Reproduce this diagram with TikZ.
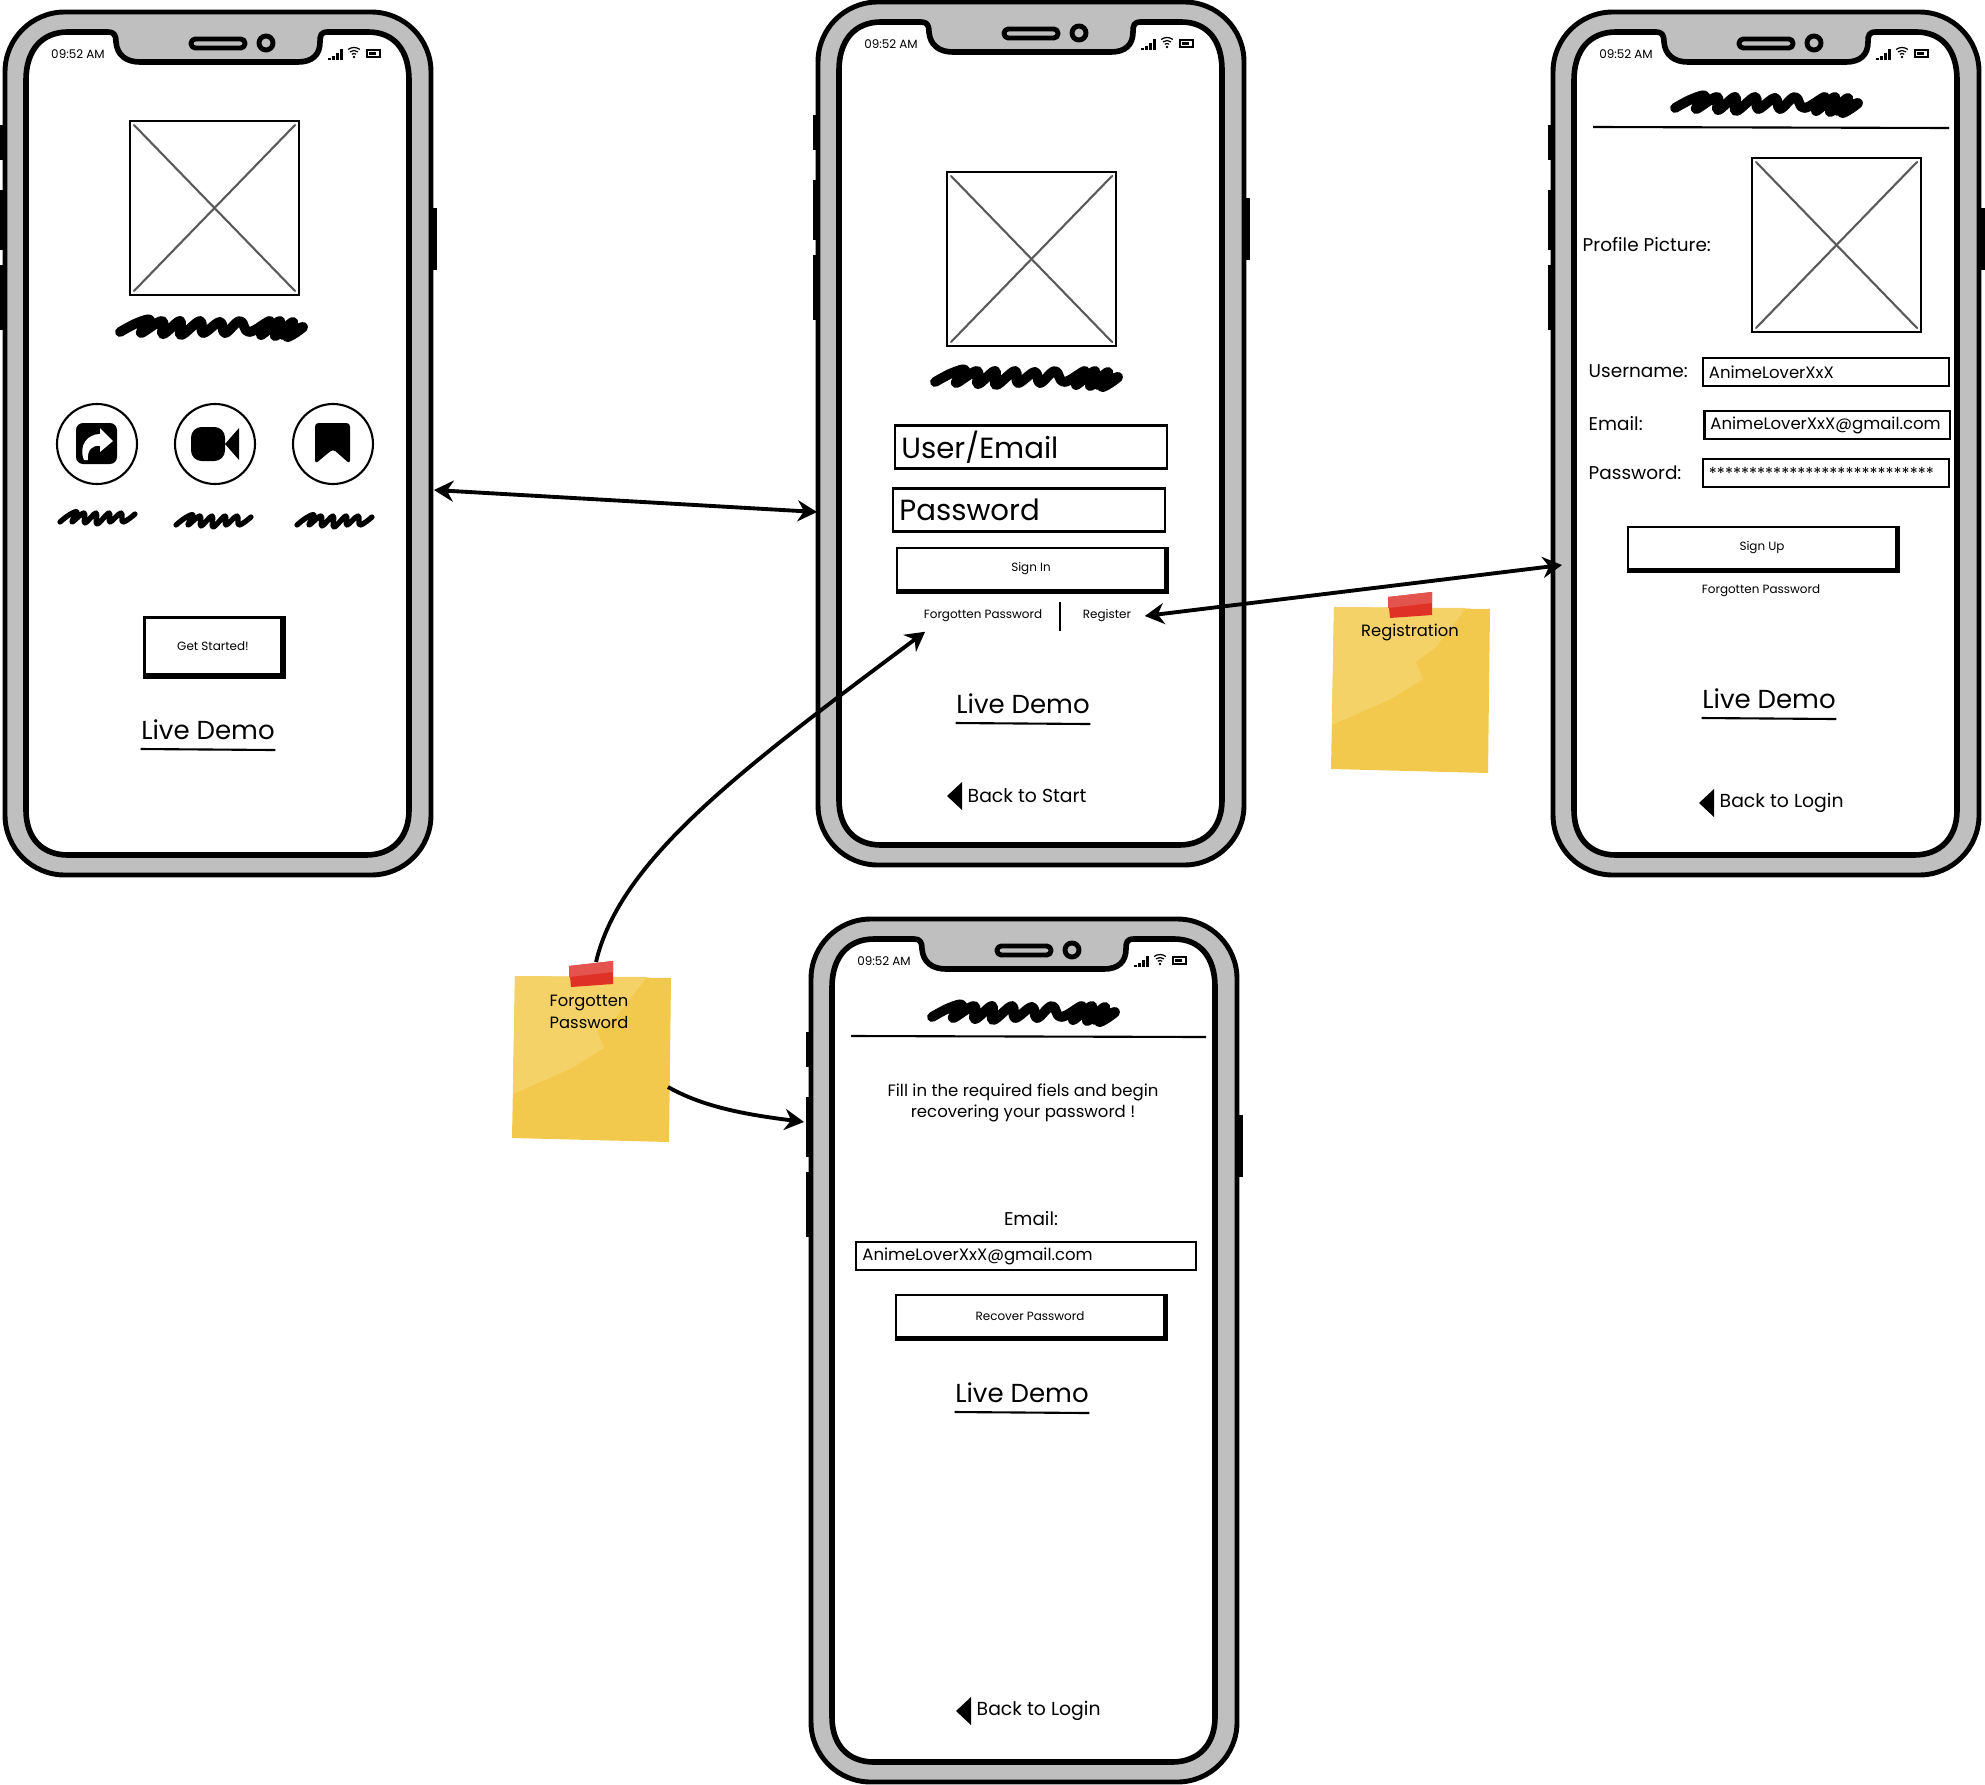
\documentclass[tikz,border=0pt]{standalone}
\usepackage{fontspec}
\setmainfont{Poppins}
\usetikzlibrary{decorations.pathmorphing, arrows.meta, calc}
\definecolor{framecol}{RGB}{191,191,191}
\definecolor{notecol}{RGB}{242,201,76}
\definecolor{noteglow}{RGB}{244,210,104}
\definecolor{tapecol}{RGB}{224,49,39}
\definecolor{tapeglow}{RGB}{228,84,78}
\definecolor{crosscol}{RGB}{90,90,90}

\begin{document}
\begin{tikzpicture}[
    x=0.01cm, y=-0.01cm,
    shellline/.style={line width=1.4pt, line join=round},
    thinline/.style={line width=0.6pt},
    arr/.style={{Stealth[length=5.5pt,width=6pt]}-{Stealth[length=5.5pt,width=6pt]}, line width=1.1pt},
    arrone/.style={-{Stealth[length=5.5pt,width=6pt]}, line width=1.1pt},
    tinytext/.style={font=\fontsize{3.4}{4.5}\selectfont, inner sep=0pt},
    labeltext/.style={font=\fontsize{5.25}{6}\selectfont, inner sep=0pt},
    backtext/.style={font=\fontsize{5.35}{6}\selectfont, inner sep=0pt, anchor=west},
    notetext/.style={font=\fontsize{4.65}{6.1}\selectfont, inner sep=0pt, align=center},
    demotext/.style={font=\fontsize{7.4}{8}\selectfont, inner sep=0pt},
    bigfield/.style={draw, thinline, font=\fontsize{8.3}{9}\selectfont, inner xsep=0.06cm,
                     inner ysep=0pt, minimum height=0.43cm, text width=2.59cm, align=left},
    field/.style={draw, thinline, font=\fontsize{4.7}{5}\selectfont, inner xsep=0.06cm,
                  inner ysep=0pt, minimum height=0.28cm, align=left},
    btn/.style={draw, thinline, tinytext, minimum width=2.68cm, minimum height=0.42cm},
    scribbleline/.style={line width=2.8pt, line cap=round, line join=round},
    phone/.pic={
        % side buttons
        \foreach \ya/\yb in {125/160, 190/250, 265/330}{
            \fill (0,\ya) rectangle (4,\yb);
        }
        \fill (432,208) rectangle (437,270);
        % case and screen
        \draw[shellline, fill=framecol, rounded corners=17pt] (5,12) rectangle (431,875);
        \draw[shellline, line width=1.6pt, fill=white]
            (26,80) .. controls (26,50) and (42,32) .. (68,32) -- (108,32)
            .. controls (114,32) and (116,35) .. (116,42)
            .. controls (117,55) and (126,62) .. (140,62) -- (298,62)
            .. controls (312,62) and (320,55) .. (320,42)
            .. controls (320,35) and (321,32) .. (328,32) -- (368,32)
            .. controls (394,32) and (409,50) .. (409,80) -- (409,810)
            .. controls (409,838) and (392,855) .. (366,855) -- (68,855)
            .. controls (42,855) and (26,838) .. (26,810) -- cycle;
        % speaker and camera
        \draw[shellline, fill=framecol, rounded corners=1.2pt] (191,39) rectangle (245,48);
        \draw[shellline, fill=framecol] (266,43) circle (7);
        % status bar
        \node[tinytext] at (78,54) {09:52 AM};
        \foreach \xx/\yy in {328/58, 332/56, 336/53, 340/49}{
            \fill (\xx,\yy) rectangle ++(2.5,-\yy+60);
        }
        \foreach \rr in {0.035,0.065,0.095}{
            \draw[line width=0.35pt] (354,57) ++(52:\rr cm) arc[start angle=52, end angle=128, radius=\rr cm];
        }
        \fill (354,57) circle (1.3);
        \draw[line width=0.4pt] (367,50) rectangle (380,57);
        \fill (369,52) rectangle (376,55);
    },
    imagebox/.pic={
        \draw[line width=0.7pt] (0,0) rectangle (169,174);
        \draw[crosscol, line width=0.6pt, line cap=round] (4,4) -- (165,170);
        \draw[crosscol, line width=0.6pt, line cap=round] (165,4) -- (4,170);
    },
    scribble/.pic={
        \draw[scribbleline, pic actions] plot[smooth, tension=0.7] coordinates {
            (5,19) (22,10) (35,7) (26,20) (47,8) (48,21) (65,8) (66,22) (85,8)
            (88,20) (105,9) (110,20) (125,8) (134,19) (155,8) (146,22) (165,8)
            (160,23) (178,9) (172,24) (188,14) (168,22)};
    },
    shortscribble/.pic={
        \draw[scribbleline, line width=1.5pt] plot[smooth, tension=0.7] coordinates {
            (3,16) (12,9) (20,6) (15,16) (27,7) (28,17) (39,7) (40,18) (52,7)
            (53,16) (64,7) (66,16) (78,8)};
    },
    sticky/.pic={
        \fill[notecol] (3,0) -- (159,2) -- (157,166) -- (0,162) -- cycle;
        \fill[noteglow] (3,0) -- (135,1) -- (105,40) -- (85,55) -- (92,72) -- (60,92) -- (1,118) -- cycle;
        \fill[tapecol] (57,-10) -- (101,-15) -- (101,8) -- (59,11) -- cycle;
        \fill[tapeglow] (57,-10) -- (101,-15) -- (101,-4) -- (57,1) -- cycle;
    },
]

\path[use as bounding box] (0,0) rectangle (1985,1785);

% ════════════════════════════════════════════════════════
% 0. PHONES
% ════════════════════════════════════════════════════════
\pic at (0,0) {phone};
\pic at (813,-10) {phone};
\pic at (1548,0) {phone};
\pic at (806,907) {phone};

% ════════════════════════════════════════════════════════
% 1. START SCREEN
% ════════════════════════════════════════════════════════
\pic at (130,121) {imagebox};
\pic at (115,313) {scribble};

\foreach \xc in {97,215,333}{
    \draw[line width=0.6pt] (\xc,444) circle (40);
}
% share icon
\fill[rounded corners=2pt] (76,423) rectangle (117,464);
\fill[white] (100,428) -- (113,441) -- (100,452) -- (100,446)
    .. controls (92,445) and (87,450) .. (88,460) -- (84,460)
    .. controls (78,445) and (88,434) .. (100,434) -- cycle;
% video icon
\fill[rounded corners=3pt] (191,427) rectangle (225,461);
\fill (225,444) -- (239,428) -- (239,460) -- cycle;
% bookmark icon
\fill[rounded corners=1pt] (315,423) -- (350,423) -- (350,464) -- (333,449) -- (315,464) -- cycle;

\pic at (57,506) {shortscribble};
\pic at (173,509) {shortscribble};
\pic at (294,509) {shortscribble};

\node[btn, minimum width=1.37cm, minimum height=0.57cm] (started) at (213,646) {Get Started!};
\node[demotext] (demostart) at (208,730) {Live Demo};

% ════════════════════════════════════════════════════════
% 2. LOGIN SCREEN
% ════════════════════════════════════════════════════════
\pic at (947,172) {imagebox};
\pic at (930,363) {scribble};

\node[bigfield] (userfield) at (1031,447) {User/Email};
\node[bigfield] (passfield) at (1029,510) {Password};
\node[btn] (signin) at (1031,569) {Sign In};

\node[tinytext] (forgotlink) at (983,616) {Forgotten Password};
\node[tinytext] (registerlink) at (1107,616) {Register};
\draw[thinline] (1060,602) -- (1060,631);

\node[demotext] (demologin) at (1023,704) {Live Demo};
\node[backtext] (backstart) at (967,796) {Back to Start};

% ════════════════════════════════════════════════════════
% 3. SIGN UP SCREEN
% ════════════════════════════════════════════════════════
\pic at (1670,89) {scribble};
\draw[thinline] (1593,127) -- (1949,128);
\pic at (1752,158) {imagebox};

\node[labeltext, anchor=west] (piclabel) at (1582,245) {Profile Picture:};
\node[labeltext, anchor=west] (namelabel) at (1588,371) {Username:};
\node[labeltext, anchor=west] (maillabel) at (1588,424) {Email:};
\node[labeltext, anchor=west] (passlabel) at (1588,473) {Password:};

\node[field, text width=2.34cm] (namefield) at (1826,372) {AnimeLoverXxX};
\node[field, text width=2.33cm] (mailfield) at (1827,425) {AnimeLoverXxX@gmail.com};
\node[field, text width=2.34cm] (starfield) at (1826,473) {****************************};

\node[btn] (signup) at (1762,548) {Sign Up};
\node[tinytext] (forgotnote) at (1761,591) {Forgotten Password};
\node[demotext] (demosignup) at (1769,699) {Live Demo};
\node[backtext] (backlogin) at (1719,803) {Back to Login};

% ════════════════════════════════════════════════════════
% 4. RECOVERY SCREEN
% ════════════════════════════════════════════════════════
\pic at (927,998) {scribble};
\draw[thinline] (851,1036) -- (1206,1037);

\node[labeltext, font=\fontsize{4.7}{6.2}\selectfont, align=center] (fillnote) at (1023,1103)
    {Fill in the required fiels and begin\\recovering your password !};
\node[labeltext] (recoverlabel) at (1031,1219) {Email:};
\node[field, text width=3.27cm] (recoverfield) at (1026,1256) {AnimeLoverXxX@gmail.com};
\node[btn] (recoverbtn) at (1030,1316) {Recover Password};
\node[demotext] (demorecover) at (1022,1393) {Live Demo};
\node[backtext] (backrecover) at (976,1711) {Back to Login};

% ════════════════════════════════════════════════════════
% 5. SHARED DETAILS
% ════════════════════════════════════════════════════════
\foreach \b in {started, signin, signup, recoverbtn}{
    \draw[line width=1.1pt] ([xshift=0.01cm]\b.north east) -- ([xshift=0.01cm,yshift=-0.01cm]\b.south east)
        -- ([yshift=-0.01cm]\b.south west);
}
\foreach \d in {demostart, demologin, demosignup, demorecover}{
    \draw[thinline] ([yshift=-0.19cm]\d.west) -- ([yshift=-0.2cm]\d.east);
}
\foreach \b in {backstart, backlogin, backrecover}{
    \fill ([xshift=-0.05cm]\b.west) ++(-15,0) -- ++(15,-14) -- ++(0,28) -- cycle;
}

% ════════════════════════════════════════════════════════
% 6. NOTES
% ════════════════════════════════════════════════════════
\pic at (1331,607) {sticky};
\pic at (512,976) {sticky};
\node[notetext] (registernote) at (1410,632) {Registration};
\node[notetext] (forgottennote) at (589,1012) {Forgotten\\Password};

% ════════════════════════════════════════════════════════
% 7. LINKS
% ════════════════════════════════════════════════════════
\coordinate (startedge) at (434,490);
\coordinate (loginedge) at (817,512);
\coordinate (signupedge) at (1562,565);
\coordinate (recoveredge) at (804,1122);
\coordinate (tapetop) at (596,962);
\coordinate (noteside) at (668,1087);

\draw[arr] (startedge) -- (loginedge);
\draw[arr] ([xshift=0.13cm]registerlink.east) -- (signupedge);
\draw[arrone] (tapetop) .. controls (620,860) and (740,770) .. ([xshift=0.02cm,yshift=-0.09cm]forgotlink.south west);
\draw[arrone] (noteside) .. controls (705,1108) and (750,1115) .. (recoveredge);

\end{tikzpicture}
\end{document}
